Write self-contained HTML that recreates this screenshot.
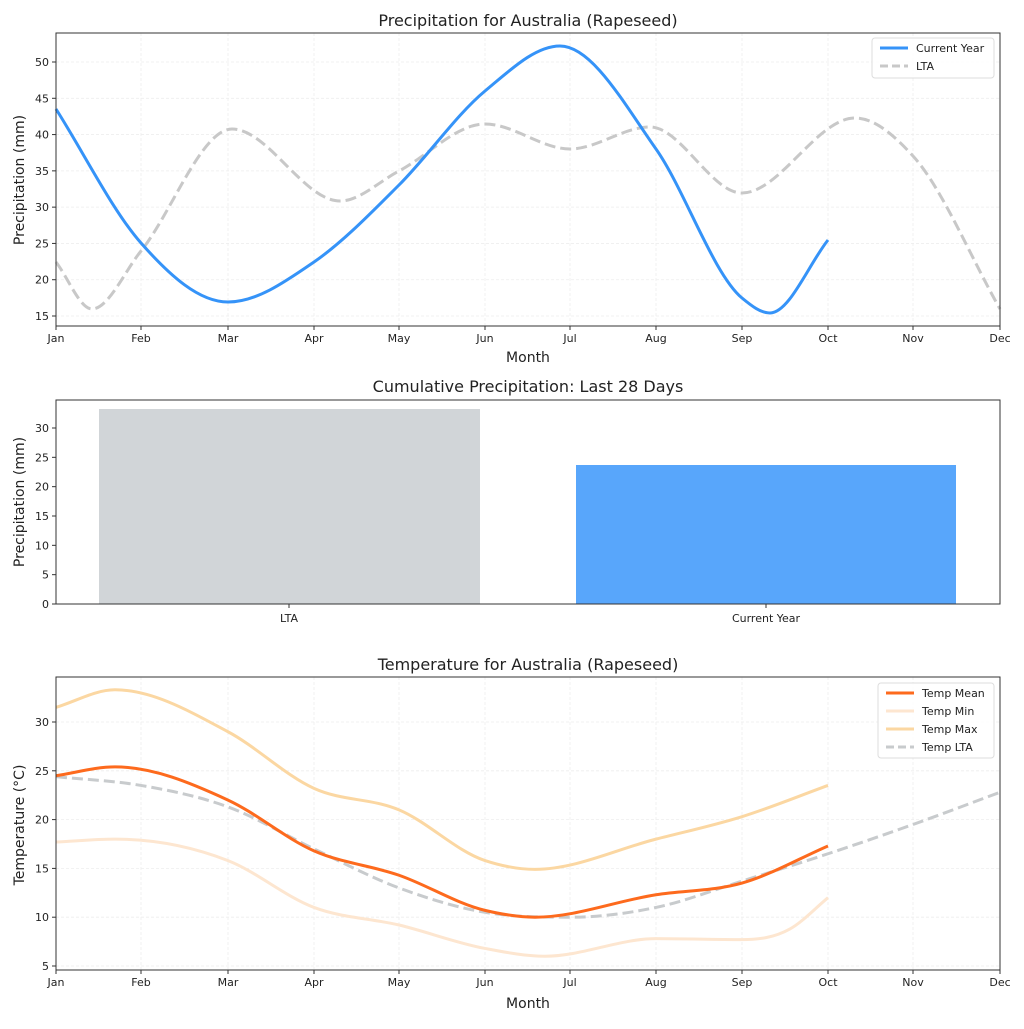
<!DOCTYPE html>
<html><head><meta charset="utf-8"><style>
body{margin:0;background:#fff;}
svg text{font-family:"DejaVu Sans","Liberation Sans",sans-serif;fill:#222;}
</style></head><body>
<svg id="s" width="1024" height="1024" xmlns="http://www.w3.org/2000/svg">
<rect width="1024" height="1024" fill="#fff"/>
<g id="grid" stroke="#eee" stroke-width="0.8" stroke-dasharray="3,2"></g>
<text x="528" y="26" font-size="16" text-anchor="middle">Precipitation for Australia (Rapeseed)</text>
<text x="528" y="392" font-size="16" text-anchor="middle">Cumulative Precipitation: Last 28 Days</text>
<text x="528" y="670" font-size="16" text-anchor="middle">Temperature for Australia (Rapeseed)</text>
<text x="528" y="362" font-size="14" text-anchor="middle">Month</text>
<text x="528" y="1008" font-size="14" text-anchor="middle">Month</text>
<text transform="translate(24,180) rotate(-90)" font-size="14" text-anchor="middle">Precipitation (mm)</text>
<text transform="translate(24,502) rotate(-90)" font-size="14" text-anchor="middle">Precipitation (mm)</text>
<text transform="translate(24,825) rotate(-90)" font-size="14" text-anchor="middle">Temperature (°C)</text>
<rect x="99" y="409" width="381" height="195" fill="#d1d5d8"/>
<rect x="576" y="465" width="380" height="139" fill="#58a6fb"/>
<g id="ticks" font-size="11"></g>
<g id="lines" fill="none"></g>
<rect x="56" y="33" width="944" height="293" fill="none" stroke="#333" stroke-width="1"/>
<rect x="56" y="400" width="944" height="204" fill="none" stroke="#333" stroke-width="1"/>
<rect x="56" y="677" width="944" height="293" fill="none" stroke="#333" stroke-width="1"/>
<rect x="872" y="38" width="122" height="40" rx="3" fill="#fff" fill-opacity="0.85" stroke="#ddd"/>
<line x1="880" y1="48" x2="908" y2="48" stroke="#3593f8" stroke-width="3"/>
<text x="916" y="52" font-size="11">Current Year</text>
<line x1="880" y1="66" x2="908" y2="66" stroke="#c8c8c8" stroke-width="3" stroke-dasharray="8,4"/>
<text x="916" y="70" font-size="11">LTA</text>
<rect x="878" y="683" width="116" height="75" rx="3" fill="#fff" fill-opacity="0.85" stroke="#ddd"/>
<line x1="886" y1="693" x2="914" y2="693" stroke="#fd6a1d" stroke-width="3"/>
<text x="922" y="697" font-size="11">Temp Mean</text>
<line x1="886" y1="711" x2="914" y2="711" stroke="#fde6d0" stroke-width="3"/>
<text x="922" y="715" font-size="11">Temp Min</text>
<line x1="886" y1="729" x2="914" y2="729" stroke="#fbd7a2" stroke-width="3"/>
<text x="922" y="733" font-size="11">Temp Max</text>
<line x1="886" y1="747" x2="914" y2="747" stroke="#c8cbcd" stroke-width="3" stroke-dasharray="8,4"/>
<text x="922" y="751" font-size="11">Temp LTA</text>
</svg>
<script>
const NS="http://www.w3.org/2000/svg";
function el(p,t,a,txt){const e=document.createElementNS(NS,t);for(const k in a)e.setAttribute(k,a[k]);if(txt!==undefined)e.textContent=txt;document.getElementById(p).appendChild(e);return e;}
const mx=[56,141,228,314,399,485,570,656,742,828,913,1000];
const mn=["Jan","Feb","Mar","Apr","May","Jun","Jul","Aug","Sep","Oct","Nov","Dec"];
function xaxis(y0,y1,yb){mx.forEach((x,i)=>{el("grid","line",{x1:x,x2:x,y1:y0,y2:y1});el("ticks","line",{x1:x,x2:x,y1:yb,y2:yb+4,stroke:"#333"});el("ticks","text",{x:x,y:yb+16,"text-anchor":"middle"},mn[i]);});}
function yaxis(vals,f,x0,x1){vals.forEach(v=>{const y=f(v);el("grid","line",{x1:x0,x2:x1,y1:y,y2:y});el("ticks","line",{x1:x0-4,x2:x0,y1:y,y2:y,stroke:"#333"});el("ticks","text",{x:x0-7,y:y+4,"text-anchor":"end"},v);});}
xaxis(33,326,326);xaxis(677,970,970);
yaxis([15,20,25,30,35,40,45,50],v=>316-(v-15)*7.257,56,1000);
yaxis([5,10,15,20,25,30],v=>966-(v-5)*9.76,56,1000);
[0,5,10,15,20,25,30].forEach(v=>{const y=604-v*5.867;el("ticks","line",{x1:52,x2:56,y1:y,y2:y,stroke:"#333"});el("ticks","text",{x:49,y:y+4,"text-anchor":"end"},v);});
[[289,"LTA"],[766,"Current Year"]].forEach(([x,t])=>{el("ticks","line",{x1:x,x2:x,y1:604,y2:608,stroke:"#333"});el("ticks","text",{x:x,y:622,"text-anchor":"middle"},t);});
function cr(p){const n=p.length,m=[];
for(let i=0;i<n;i++){
 if(i==0)m[i]=(p[1][1]-p[0][1])/(p[1][0]-p[0][0]);
 else if(i==n-1)m[i]=(p[i][1]-p[i-1][1])/(p[i][0]-p[i-1][0]);
 else{const a=(p[i][1]-p[i-1][1])/(p[i][0]-p[i-1][0]),b=(p[i+1][1]-p[i][1])/(p[i+1][0]-p[i][0]);
  if(a*b<=0)m[i]=0;else{const h0=p[i][0]-p[i-1][0],h1=p[i+1][0]-p[i][0];m[i]=(a*h1+b*h0)/(h0+h1);}}}
let d="M"+p[0][0]+","+p[0][1];
for(let i=0;i<n-1;i++){const h=(p[i+1][0]-p[i][0])/3;
 d+=" C"+(p[i][0]+h)+","+(p[i][1]+m[i]*h)+" "+(p[i+1][0]-h)+","+(p[i+1][1]-m[i+1]*h)+" "+p[i+1][0]+","+p[i+1][1];}
return d;}
function line(p,c,dash){const a={d:cr(p),stroke:c,"stroke-width":3};if(dash)a["stroke-dasharray"]="11,5";el("lines","path",a);}
const ty=v=>966-(v-5)*9.76;
line([[56,262],[92,309],[141,251],[232,129],[340,201],[399,171],[485,124],[570,149],[650,127],[742,193],[855,118],[913,156],[1000,309]],"#c8c8c8",1);
line([[56,109],[141,243],[228,302],[314,262],[399,185],[485,91],[560,46],[656,149],[742,298],[770,313],[828,240]],"#3593f8");
const T=(a)=>a.map(([x,v])=>[x,ty(v)]);
line(T([[56,17.7],[115,18],[228,15.8],[314,11],[399,9.2],[485,6.8],[545,6],[656,7.8],[742,7.7],[790,8.8],[828,12]]),"#fde6d0");
line(T([[56,31.5],[115,33.3],[228,29],[314,23.2],[399,21],[485,15.8],[535,14.9],[656,18],[742,20.3],[828,23.5]]),"#fbd7a2");
line(T([[56,24.4],[141,23.5],[228,21.3],[314,17],[399,13],[485,10.5],[570,10],[656,11],[742,13.7],[828,16.5],[913,19.5],[1000,22.8]]),"#c8cbcd",1);
line(T([[56,24.5],[115,25.4],[228,22],[314,16.8],[399,14.3],[485,10.7],[535,10],[656,12.3],[742,13.5],[828,17.3]]),"#fd6a1d");
</script>
</body></html>
